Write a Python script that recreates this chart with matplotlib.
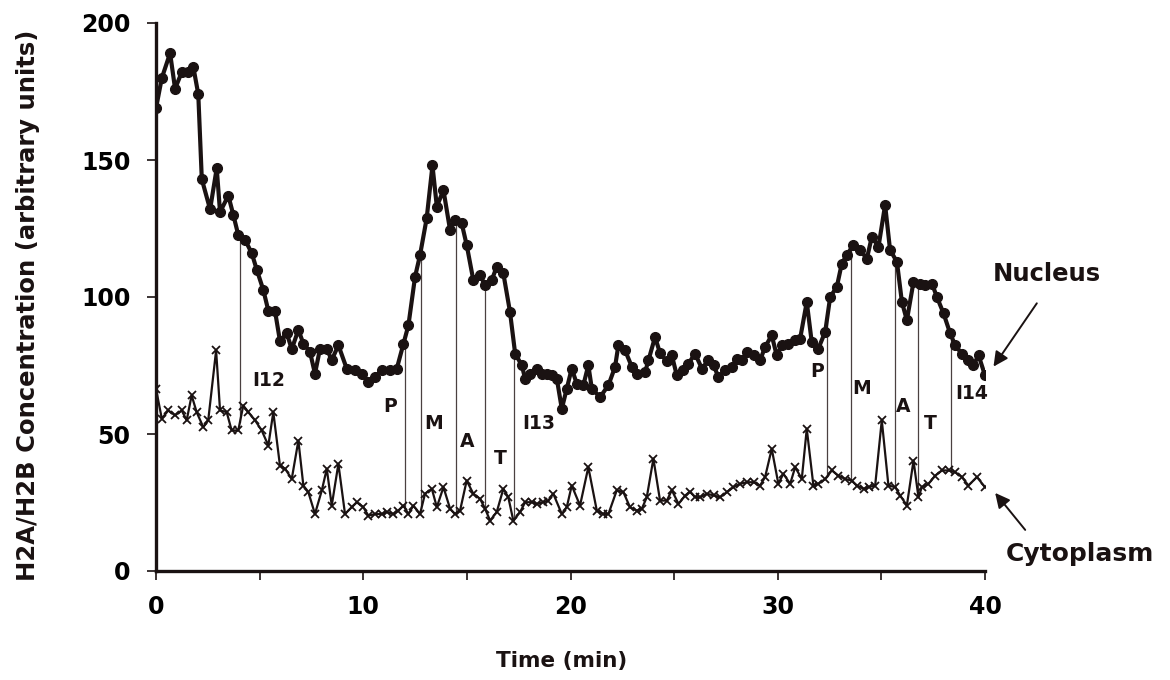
import numpy as np
import matplotlib
matplotlib.use("Agg")
import matplotlib.pyplot as plt
from matplotlib.ticker import MultipleLocator

# ---------------- data ----------------
nuc_t = [0.00, 0.28, 0.68, 0.92, 1.24, 1.56, 1.80, 2.04, 2.21, 2.61, 2.93, 3.09, 3.49, 3.73, 3.97,
         4.30, 4.62, 4.86, 5.18, 5.42, 5.74, 5.98, 6.31, 6.55, 6.87, 7.11, 7.43, 7.67, 7.91, 8.24,
         8.48, 8.80, 9.20, 9.60, 9.93, 10.25, 10.57, 10.89, 11.29, 11.62, 11.94, 12.18, 12.50, 12.74,
         13.06, 13.34, 13.55, 13.87, 14.19, 14.43, 14.75, 14.99, 15.31, 15.64, 15.88, 16.20, 16.44,
         16.76, 17.08, 17.33, 17.65, 17.81, 18.05, 18.37, 18.61, 18.86, 19.10, 19.34, 19.58, 19.82,
         20.06, 20.30, 20.62, 20.86, 21.03, 21.43, 21.83, 22.15, 22.31, 22.63, 22.96, 23.20, 23.60,
         23.76, 24.08, 24.32, 24.65, 24.89, 25.13, 25.45, 25.69, 26.01, 26.34, 26.65, 26.90, 27.14,
         27.46, 27.78, 28.02, 28.27, 28.51, 28.83, 29.15, 29.39, 29.71, 29.95, 30.20, 30.51, 30.84,
         31.08, 31.40, 31.64, 31.96, 32.29, 32.53, 32.85, 33.09, 33.33, 33.65, 33.98, 34.30, 34.54,
         34.86, 35.18, 35.42, 35.75, 35.99, 36.23, 36.55, 36.87, 37.11, 37.44, 37.68, 38.00, 38.32,
         38.56, 38.88, 39.20, 39.44, 39.69, 40.00]
nucleus = [168.9, 179.9, 189.0, 176.0, 182.0, 182.0, 184.0, 174.0, 143.0, 132.0, 147.0, 131.0, 137.0,
           130.0, 122.6, 120.8, 116.0, 110.0, 102.5, 95.0, 95.0, 84.0, 86.7, 81.0, 88.0, 83.0, 80.0,
           72.0, 81.0, 81.0, 77.0, 82.4, 73.9, 73.2, 72.0, 69.0, 70.8, 73.2, 73.2, 73.9, 83.0, 89.7,
           107.4, 115.3, 128.7, 148.0, 133.0, 139.0, 124.4, 128.0, 126.9, 119.0, 106.2, 108.0, 104.3,
           106.2, 111.0, 108.6, 94.6, 79.3, 75.1, 70.2, 72.0, 73.9, 72.0, 72.0, 71.4, 70.2, 59.2, 66.5,
           73.9, 68.4, 67.8, 75.1, 66.5, 63.5, 67.8, 74.5, 82.4, 80.6, 74.5, 72.0, 72.6, 76.9, 85.4,
           79.5, 76.5, 78.7, 71.4, 73.2, 75.7, 79.3, 73.9, 76.9, 75.1, 70.8, 73.2, 74.5, 77.5, 76.9,
           80.0, 78.7, 76.9, 81.8, 86.0, 78.7, 82.4, 83.0, 84.2, 84.8, 98.2, 83.5, 81.2, 87.3, 100.0,
           103.7, 112.2, 115.3, 119.0, 117.1, 114.0, 122.0, 118.3, 133.6, 117.1, 112.9, 98.2, 91.5,
           105.5, 104.9, 104.3, 104.9, 100.0, 94.0, 86.7, 82.4, 79.3, 76.9, 75.1, 78.7, 71.4]

cyt_t = [0.00, 0.28, 0.59, 0.92, 1.24, 1.48, 1.72, 1.96, 2.28, 2.52, 2.90, 3.09, 3.41, 3.65, 3.97,
         4.21, 4.45, 4.78, 5.10, 5.42, 5.66, 5.98, 6.23, 6.55, 6.87, 7.11, 7.35, 7.67, 8.00, 8.24,
         8.48, 8.80, 9.12, 9.44, 9.69, 10.00, 10.25, 10.57, 10.89, 11.13, 11.45, 11.69, 11.94, 12.18,
         12.42, 12.74, 12.98, 13.31, 13.55, 13.87, 14.19, 14.43, 14.67, 14.99, 15.31, 15.64, 15.88,
         16.12, 16.44, 16.76, 17.00, 17.24, 17.57, 17.81, 18.13, 18.37, 18.69, 18.93, 19.17, 19.58,
         19.82, 20.06, 20.46, 20.86, 21.27, 21.59, 21.83, 22.23, 22.55, 22.87, 23.20, 23.44, 23.68,
         24.00, 24.32, 24.65, 24.89, 25.21, 25.53, 25.77, 26.01, 26.25, 26.58, 26.90, 27.22, 27.54,
         27.86, 28.18, 28.51, 28.83, 29.15, 29.39, 29.71, 30.03, 30.27, 30.60, 30.84, 31.16, 31.40,
         31.72, 31.96, 32.29, 32.61, 32.93, 33.25, 33.57, 33.82, 34.14, 34.38, 34.70, 35.02, 35.34,
         35.67, 35.91, 36.23, 36.55, 36.79, 36.95, 37.27, 37.60, 37.92, 38.24, 38.56, 38.88, 39.20,
         39.61, 40.00]
cytoplasm = [66.5, 55.6, 58.6, 56.8, 58.6, 55.0, 64.1, 58.0, 52.5, 55.0, 80.5, 58.6, 58.0, 51.3, 51.3,
             60.4, 58.0, 55.0, 51.3, 45.8, 58.0, 38.5, 37.3, 33.6, 47.6, 31.2, 28.8, 20.8, 29.4, 37.3,
             23.9, 39.1, 20.8, 23.3, 25.1, 23.3, 20.2, 20.8, 20.8, 21.5, 20.8, 22.0, 23.9, 20.8, 23.9,
             20.8, 28.2, 30.0, 23.3, 30.6, 22.7, 20.8, 22.0, 33.0, 28.2, 26.3, 22.7, 18.4, 21.5, 30.0,
             26.9, 18.4, 21.5, 25.1, 25.1, 24.5, 25.1, 25.7, 28.2, 20.8, 23.3, 31.2, 23.9, 37.9, 22.0,
             20.8, 20.8, 29.4, 28.8, 23.3, 22.0, 22.7, 26.9, 41.0, 25.7, 25.7, 29.5, 24.5, 27.5, 29.0,
             27.0, 26.9, 28.2, 27.6, 26.9, 28.8, 30.6, 31.8, 32.4, 32.4, 31.2, 34.3, 44.6, 31.8, 35.5,
             31.8, 37.9, 33.6, 51.9, 31.2, 31.8, 33.6, 36.7, 34.8, 33.6, 33.0, 31.2, 30.0, 30.6, 31.2,
             55.0, 31.2, 30.6, 27.5, 23.9, 40.3, 26.9, 30.6, 31.8, 34.8, 36.7, 36.7, 36.1, 34.3, 31.2,
             34.3, 30.6]

phase_times = [4.05, 12.02, 12.79, 14.48, 15.88, 17.28, 32.37, 33.54, 35.67, 36.79, 38.35]
phase_labels = ["I12", "P", "M", "A", "T", "I13", "P", "M", "A", "T", "I14"]

x_ticks = [0, 10, 20, 30, 40]
y_ticks = [0, 50, 100, 150, 200]

# ---------------- figure ----------------
plt.rcParams['font.family'] = ['DejaVu Sans']
plt.rcParams['font.weight'] = 'bold'
ink = '#1a1212'

fig = plt.figure(figsize=(11.7, 6.8), dpi=100)
ax = fig.add_axes([156/1170, 1-571/680, (985-156)/1170, (571-23)/680])

# phase boundary lines between the two curves
for pt in phase_times:
    lo = np.interp(pt, cyt_t, cytoplasm)
    hi = np.interp(pt, nuc_t, nucleus)
    ax.plot([pt, pt], [lo, hi], color='#4a4040', lw=0.9, zorder=1)

ax.plot(cyt_t, cytoplasm, color=ink, lw=1.6, marker='x', markersize=6,
        markeredgewidth=1.3, zorder=2)
ax.plot(nuc_t, nucleus, color=ink, lw=3.0, marker='o', markersize=7, zorder=3)

# phase labels (offsets are layout only)
label_offsets = [(1.4, 69.7), (-0.73, 60), (0.59, 53.9), (0.52, 47.2), (0.72, 41.1), (1.17, 53.9),
                 (-0.48, 72.7), (0.52, 66.7), (0.40, 60), (0.57, 53.9), (1.02, 64.9)]
for pt, lab, (dx, yv) in zip(phase_times, phase_labels, label_offsets):
    ax.text(pt + dx, yv, lab, ha='center', va='center', fontsize=13.5, fontweight='bold', color=ink)

ax.set_xlim(0, 40)
ax.set_ylim(0, 200)
ax.set_xticks(x_ticks)
ax.xaxis.set_minor_locator(MultipleLocator(5))
ax.set_yticks(y_ticks)
for s in ['top', 'right']:
    ax.spines[s].set_visible(False)
for s in ['left', 'bottom']:
    ax.spines[s].set_linewidth(2.4)
    ax.spines[s].set_color(ink)
ax.tick_params(axis='both', which='both', direction='out', length=6.5, width=1.2, color=ink)
ax.tick_params(axis='x', which='major', pad=11, labelsize=17)
ax.tick_params(axis='y', which='major', pad=12, labelsize=17)
for lab in ax.get_xticklabels() + ax.get_yticklabels():
    lab.set_fontweight('bold')

fig.text(562/1170, 1-661/680, "Time (min)", ha='center', va='center',
         fontsize=15.5, fontweight='bold', color=ink)
fig.text(28/1170, 1-305/680, "H2A/H2B Concentration (arbitrary units)", rotation=90,
         ha='center', va='center', fontsize=17.5, fontweight='bold', color=ink)

# Nucleus / Cytoplasm annotations
ax.annotate('', xy=(40.41, 74.6), xytext=(42.5, 97.7), annotation_clip=False,
            arrowprops=dict(arrowstyle='-|>', lw=1.4, color=ink, mutation_scale=22,
                            shrinkA=0, shrinkB=0))
ax.text(43.0, 108.4, "Nucleus", ha='center', va='center', fontsize=17.5, fontweight='bold',
        color=ink, clip_on=False)
ax.annotate('', xy=(40.49, 28.5), xytext=(41.94, 15.0), annotation_clip=False,
            arrowprops=dict(arrowstyle='-|>', lw=1.4, color=ink, mutation_scale=22,
                            shrinkA=0, shrinkB=0))
ax.text(44.6, 6.2, "Cytoplasm", ha='center', va='center', fontsize=18, fontweight='bold',
        color=ink, clip_on=False)

fig.savefig("out.png", dpi=100)
